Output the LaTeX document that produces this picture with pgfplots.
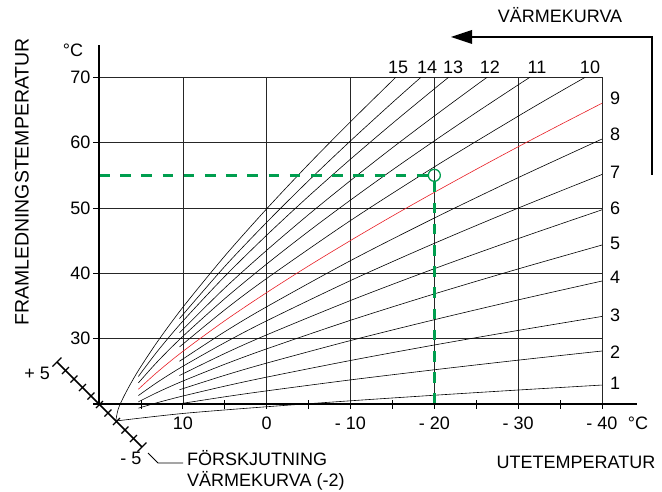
\documentclass[border=0pt]{standalone}
\usepackage{fontspec}
\setmainfont{Liberation Sans}
\usepackage{pgfplots}
\pgfplotsset{compat=1.18}
\definecolor{gr}{RGB}{0,158,79}
\definecolor{rd}{RGB}{232,30,37}
\begin{document}
\begin{tikzpicture}[font=\fontsize{18}{21}\selectfont]
\path[use as bounding box] (0,0) rectangle (662pt,491pt);
\begin{axis}[at={(350.5pt,250.35pt)}, anchor=center, scale only axis,
  width=503pt, height=326.7pt,
  xmin=-40, xmax=20, x dir=reverse, ymin=20, ymax=70, clip=false,
  axis line style={line width=0.6pt, black!85},
  grid=major, major grid style={line width=0.6pt, black!85},
  xtick={10,0,-10,-20,-30,-40}, xticklabels={10,0,- 10,- 20,- 30,- 40},
  ytick={30,40,50,60,70}, yticklabels={30,40,50,60,70},
  major tick length=0pt, tick style={draw=none},
  tick label style={font=\fontsize{18}{21}\selectfont},
  xticklabel style={yshift=-9pt}, yticklabel style={xshift=-5pt},
  every axis plot/.append style={line width=0.6pt}]
% curves 1..15
\addplot[black, smooth] coordinates {(18,17.4) (10,18.55) (0,19.58) (-10,20.49) (-20,21.34) (-30,22.14) (-40,22.9)};
\addplot[black, smooth] coordinates {(10.4,20.03) (5,21.10) (0,22.01) (-10,23.69) (-20,25.24) (-30,26.71) (-40,28.11)};
\addplot[black, smooth] coordinates {(15.3,19.36) (13,20.22) (10,21.22) (5,22.73) (0,24.11) (-10,26.66) (-20,29.03) (-30,31.26) (-40,33.40)};
\addplot[black, smooth] coordinates {(10.4,22.18) (5,24.39) (0,26.26) (-10,29.71) (-20,32.90) (-30,35.93) (-40,38.82)};
\addplot[black, smooth] coordinates {(15.3,20.33) (13,21.80) (10,23.51) (5,26.08) (0,28.44) (-10,32.81) (-20,36.85) (-30,40.67) (-40,44.33)};
\addplot[black, smooth] coordinates {(10.4,24.36) (5,27.73) (0,30.58) (-10,35.84) (-20,40.71) (-30,45.31) (-40,49.72)};
\addplot[black, smooth] coordinates {(15.3,21.29) (13,23.36) (10,25.77) (5,29.39) (0,32.73) (-10,38.89) (-20,44.59) (-30,49.98) (-40,55.13)};
\addplot[black, smooth] coordinates {(10.4,26.54) (5,31.06) (0,34.88) (-10,41.94) (-20,48.46) (-30,54.64) (-40,60.55)};
\addplot[rd, smooth] coordinates {(15.3,22.26) (13,24.93) (10,28.05) (5,32.74) (0,37.05) (-5,41.13) (-10,45.02) (-15,48.77) (-20,52.39) (-25,55.92) (-30,59.37) (-35,62.73) (-40,66.03)};
\addplot[black, smooth] coordinates {(10.4,28.73) (5,34.41) (0,39.21) (-10,48.08) (-20,56.29) (-30,64.05) (-35,67.80) (-38,70)};
\addplot[black, smooth] coordinates {(15.3,23.23) (13,26.52) (10,30.35) (5,36.12) (0,41.42) (-5,46.43) (-10,51.21) (-15,55.82) (-20,60.27) (-25,64.61) (-30,68.84) (-31.4,70)};
\addplot[black, smooth] coordinates {(10.4,30.91) (5,37.75) (0,43.52) (-5,48.99) (-10,54.20) (-15,59.22) (-20,64.07) (-25,68.80) (-26.3,70)};
\addplot[black, smooth] coordinates {(15.3,24.22) (13,28.12) (10,32.68) (5,39.53) (0,45.83) (-5,51.79) (-10,57.47) (-15,62.94) (-20,68.23) (-21.7,70)};
\addplot[black, smooth] coordinates {(10.4,33.07) (5,41.05) (0,47.80) (-5,54.18) (-10,60.27) (-15,66.13) (-18.4,70)};
\addplot[black, smooth] coordinates {(18,17.4) (17.7,19.25) (17,21.25) (16,23.62) (15,25.74) (13,29.59) (10,34.80) (5,42.65) (0,49.87) (-5,56.69) (-10,63.20) (-15.4,70)};
% green selection
\addplot[gr, line width=3.6pt, dash pattern=on 10.7pt off 10.5pt] coordinates {(20,55) (-19.28,55)};
\addplot[gr, line width=3.6pt, dash pattern=on 10.7pt off 10.5pt] coordinates {(-20,54.08) (-20,20)};
\addplot[gr, only marks, mark=o, mark size=6pt, mark options={line width=1.3pt}] coordinates {(-20,55)};
% curve labels right
\node[anchor=west, inner sep=0, xshift=8pt] at (axis cs:-40,23.2) {1};
\node[anchor=west, inner sep=0, xshift=8pt] at (axis cs:-40,28.0) {2};
\node[anchor=west, inner sep=0, xshift=8pt] at (axis cs:-40,33.6) {3};
\node[anchor=west, inner sep=0, xshift=8pt] at (axis cs:-40,39.4) {4};
\node[anchor=west, inner sep=0, xshift=8pt] at (axis cs:-40,44.6) {5};
\node[anchor=west, inner sep=0, xshift=8pt] at (axis cs:-40,50.0) {6};
\node[anchor=west, inner sep=0, xshift=8pt] at (axis cs:-40,55.5) {7};
\node[anchor=west, inner sep=0, xshift=8pt] at (axis cs:-40,61.3) {8};
\node[anchor=west, inner sep=0, xshift=8pt] at (axis cs:-40,66.8) {9};
% curve labels top
\node[anchor=base, inner sep=0, yshift=4pt] at (axis cs:-15.67,70) {15};
\node[anchor=base, inner sep=0, yshift=4pt] at (axis cs:-19.13,70) {14};
\node[anchor=base, inner sep=0, yshift=4pt] at (axis cs:-22.23,70) {13};
\node[anchor=base, inner sep=0, yshift=4pt] at (axis cs:-26.64,70) {12};
\node[anchor=base, inner sep=0, yshift=4pt] at (axis cs:-32.25,70) {11};
\node[anchor=base, inner sep=0, yshift=4pt] at (axis cs:-38.57,70) {10};
\end{axis}
% axis lines
\draw[line width=2.6pt] (99pt,87pt) -- (99pt,446pt);
\draw[line width=2.6pt] (93pt,87pt) -- (637pt,87pt);
% y ticks
\draw[line width=0.8pt] (93pt,152.34pt) -- (99pt,152.34pt);
\draw[line width=0.8pt] (93pt,217.68pt) -- (99pt,217.68pt);
\draw[line width=0.8pt] (93pt,283.02pt) -- (99pt,283.02pt);
\draw[line width=0.8pt] (93pt,348.36pt) -- (99pt,348.36pt);
\draw[line width=0.8pt] (93pt,413.7pt) -- (99pt,413.7pt);
% x major ticks
\draw[line width=0.8pt] (182.83pt,87pt) -- (182.83pt,82pt);
\draw[line width=0.8pt] (266.67pt,87pt) -- (266.67pt,82pt);
\draw[line width=0.8pt] (350.5pt,87pt) -- (350.5pt,82pt);
\draw[line width=0.8pt] (434.33pt,87pt) -- (434.33pt,82pt);
\draw[line width=0.8pt] (518.17pt,87pt) -- (518.17pt,82pt);
\draw[line width=0.8pt] (602pt,87pt) -- (602pt,82pt);
% x minor ticks
\draw[line width=0.8pt] (140.92pt,91pt) -- (140.92pt,82pt);
\draw[line width=0.8pt] (224.75pt,91pt) -- (224.75pt,82pt);
\draw[line width=0.8pt] (308.58pt,91pt) -- (308.58pt,82pt);
\draw[line width=0.8pt] (392.42pt,91pt) -- (392.42pt,82pt);
\draw[line width=0.8pt] (476.25pt,91pt) -- (476.25pt,82pt);
\draw[line width=0.8pt] (560.08pt,91pt) -- (560.08pt,82pt);
% texts
\node[inner sep=0, rotate=90, font=\fontsize{19.5}{22}\selectfont] at (22pt,309pt) {FRAMLEDNINGSTEMPERATUR};
\node[inner sep=0] at (73pt,441pt) {°C};
\node[inner sep=0] at (638pt,68pt) {°C};
\node[inner sep=0] at (576pt,29pt) {UTETEMPERATUR};
\node[inner sep=0, anchor=east] at (50pt,118pt) {+ 5};
\node[inner sep=0] at (131pt,33pt) {- 5};
\node[inner sep=0, anchor=base west] at (187pt,25.5pt) {FÖRSKJUTNING};
\node[inner sep=0, anchor=base west] at (187pt,4.5pt) {VÄRMEKURVA (-2)};
\node[inner sep=0, anchor=base] at (560pt,468.5pt) {VÄRMEKURVA};
% leader line
\draw[line width=0.8pt] (148pt,38pt) -- (158pt,28pt) -- (183pt,28pt);
% offset scale
\draw[line width=1.6pt] (57pt,129pt) -- (142pt,44pt);
\draw[line width=1.2pt] (62pt,117pt) -- (69pt,124pt);
\draw[line width=1.2pt] (70.5pt,108.5pt) -- (77.5pt,115.5pt);
\draw[line width=1.2pt] (79pt,100pt) -- (86pt,107pt);
\draw[line width=1.2pt] (87.5pt,91.5pt) -- (94.5pt,98.5pt);
\draw[line width=1.2pt] (96pt,83pt) -- (103pt,90pt);
\draw[line width=1.2pt] (104.5pt,74.5pt) -- (111.5pt,81.5pt);
\draw[line width=1.2pt] (113pt,66pt) -- (120pt,73pt);
\draw[line width=1.2pt] (121.5pt,57.5pt) -- (128.5pt,64.5pt);
\draw[line width=1.2pt] (130pt,49pt) -- (137pt,56pt);
\draw[line width=1.2pt] (52.5pt,124.5pt) -- (61.5pt,133.5pt);
\draw[line width=1.2pt] (137.5pt,39.5pt) -- (146.5pt,48.5pt);
% top arrow
\draw[line width=2pt] (652pt,316pt) -- (652pt,454pt) -- (468pt,454pt);
\fill (451pt,454pt) -- (472pt,461pt) -- (472pt,447pt) -- cycle;
\end{tikzpicture}
\end{document}
